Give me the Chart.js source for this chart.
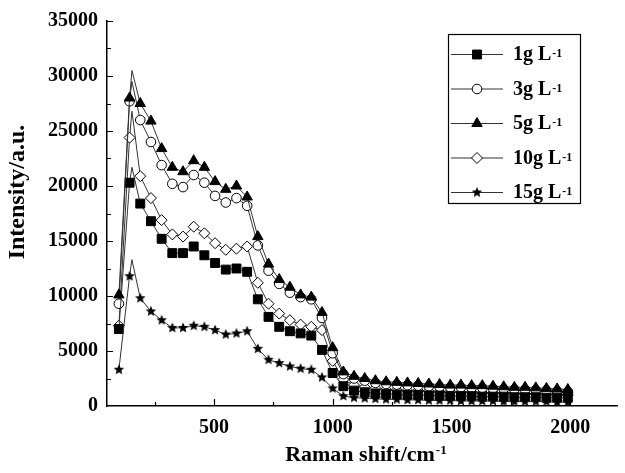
<!DOCTYPE html>
<html>
<head>
<meta charset="utf-8">
<script src="https://cdn.jsdelivr.net/npm/chart.js@4.4.1/dist/chart.umd.min.js"></script>
<style>
  html, body { margin: 0; padding: 0; background: #fff; }
  #wrap { width: 625px; height: 473px; }
</style>
</head>
<body>
<div id="wrap"><canvas id="ramanChart" width="625" height="473"></canvas></div>
<script>
// Raman shift (cm-1); 155 is the unmarked peak point
const shifts = [100, 145, 155, 190, 235, 280, 325, 370, 415, 460, 505, 550, 595, 640, 685, 730, 775, 820, 865, 910,
  955, 1000, 1045, 1090, 1135, 1180, 1225, 1270, 1315, 1360, 1405, 1450, 1495, 1540, 1585, 1630, 1675, 1720, 1765,
  1810, 1855, 1900, 1945, 1990];

const conc1g = [7000, 20300, 21700, 18400, 16800, 15200, 13900, 13900, 14500, 13700, 13000, 12400, 12500, 12200, 9700,
  8100, 7200, 6800, 6600, 6400, 5100, 3000, 1800, 1400, 1250, 1150, 1100, 1050, 1000, 1000, 950, 950, 900, 900, 900,
  850, 850, 850, 800, 800, 800, 750, 750, 750];
const conc3g = [9300, 27700, 29500, 26000, 24000, 21900, 20200, 19900, 21000, 20300, 19100, 18500, 18900, 18200, 14600,
  12300, 11100, 10300, 9900, 9700, 8000, 4800, 2900, 2500, 2300, 2100, 2000, 1950, 1900, 1850, 1800, 1750, 1700, 1700,
  1650, 1650, 1600, 1550, 1500, 1500, 1450, 1400, 1350, 1300];
const conc5g = [10100, 28000, 30500, 27500, 25900, 23400, 21700, 21300, 22300, 21700, 20400, 19700, 20000, 19000, 15400,
  12900, 11500, 10800, 10100, 9900, 8500, 5300, 3100, 2700, 2500, 2300, 2200, 2150, 2100, 2050, 2000, 1950, 1900, 1900,
  1850, 1850, 1800, 1750, 1700, 1700, 1650, 1600, 1550, 1500];
const conc10g = [7300, 24400, 26800, 20900, 18900, 16900, 15600, 15400, 16300, 15700, 14800, 14200, 14300, 14500, 11200,
  9300, 8400, 7800, 7400, 7200, 6900, 4100, 2400, 1900, 1700, 1600, 1500, 1450, 1400, 1400, 1350, 1300, 1300, 1250,
  1250, 1200, 1200, 1150, 1150, 1100, 1100, 1050, 1050, 1000];
const conc15g = [3300, 11800, 13300, 9800, 8600, 7800, 7100, 7100, 7300, 7200, 6900, 6500, 6600, 6800, 5200, 4200, 3900,
  3600, 3400, 3300, 2600, 1600, 900, 750, 700, 650, 600, 600, 550, 550, 500, 500, 500, 450, 450, 450, 450, 400, 400,
  400, 400, 400, 350, 350];

const seriesNames = ['1g L', '3g L', '5g L', '10g L', '15g L'];
const xTitle = 'Raman shift/cm';
const yTitle = 'Intensity/a.u.';

// tick values; only multiples of 500 / 5000 get a label
const xTicks = [250, 500, 750, 1000, 1250, 1500, 1750, 2000];
const yTicks = [0, 2500, 5000, 7500, 10000, 12500, 15000, 17500, 20000, 22500, 25000, 27500, 30000, 32500, 35000];

const FONT = 'Liberation Serif';

// filled five-point star, Chart.js has only the asterisk style
function makeStar(size) {
  const c = document.createElement('canvas');
  c.width = c.height = size;
  const g = c.getContext('2d');
  const R = size / 2 - 0.5, r = R * 0.45;
  g.beginPath();
  for (let i = 0; i < 10; i++) {
    const a = -Math.PI / 2 + i * Math.PI / 5;
    const rr = i % 2 ? r : R;
    g.lineTo(size / 2 + rr * Math.cos(a), size / 2 + rr * Math.sin(a));
  }
  g.closePath();
  g.fillStyle = '#000';
  g.fill();
  return c;
}
const star = makeStar(12);

// no marker on the peak point
const radii = r => shifts.map((s, i) => (i === 2 ? 0 : r));

function series(label, values, style, radius, filled, order) {
  return {
    label,
    data: shifts.map((x, i) => ({ x, y: values[i] })),
    borderColor: '#333',
    borderWidth: 1,
    pointStyle: style,
    pointRadius: radii(radius),
    pointBorderColor: '#000',
    pointBackgroundColor: filled ? '#000' : '#fff',
    pointBorderWidth: 1,
    tension: 0,
    order
  };
}

const datasets = [
  series(seriesNames[0], conc1g, 'rect', 6.3, true, 3),
  series(seriesNames[1], conc3g, 'circle', 4.8, false, 4),
  series(seriesNames[2], conc5g, 'triangle', 6, true, 2),
  series(seriesNames[3], conc10g, 'rectRot', 5.5, false, 5),
  series(seriesNames[4], conc15g, star, 5, true, 1)
];

function textWithSup(ctx, base, sup, x, y, size, supSize, raise) {
  ctx.font = 'bold ' + size + 'px "' + FONT + '"';
  ctx.fillText(base, x, y);
  const w = ctx.measureText(base).width;
  ctx.font = 'bold ' + supSize + 'px "' + FONT + '"';
  ctx.fillText(sup, x + w + 1, y - raise);
}

const decor = {
  id: 'decor',
  afterDraw(chart) {
    const ctx = chart.ctx;
    const xs = chart.scales.x, ys = chart.scales.y;
    const a = chart.chartArea;
    ctx.save();
    ctx.strokeStyle = '#000';
    ctx.fillStyle = '#000';
    ctx.lineWidth = 1.2;

    // inward ticks
    ctx.beginPath();
    xs.ticks.forEach(t => {
      const px = Math.round(xs.getPixelForValue(t.value)) + 0.5;
      const len = t.value % 500 === 0 ? 7 : 4;
      ctx.moveTo(px, a.bottom);
      ctx.lineTo(px, a.bottom - len);
    });
    ys.ticks.forEach(t => {
      if (t.value === 0) return;
      const py = Math.round(ys.getPixelForValue(t.value)) + 0.5;
      const len = t.value % 5000 === 0 ? 6 : 4;
      ctx.moveTo(a.left, py);
      ctx.lineTo(a.left + len, py);
    });
    ctx.stroke();

    // axis titles
    ctx.textBaseline = 'alphabetic';
    ctx.textAlign = 'left';
    ctx.font = 'bold 22px "' + FONT + '"';
    const bw = ctx.measureText(xTitle).width;
    textWithSup(ctx, xTitle, '-1', 365 - (bw + 10) / 2, 461, 22, 13, 7);

    ctx.save();
    ctx.translate(18, 192);
    ctx.rotate(-Math.PI / 2);
    ctx.font = 'bold 24px "' + FONT + '"';
    ctx.textAlign = 'center';
    ctx.textBaseline = 'middle';
    ctx.fillText(yTitle, 0, 0);
    ctx.restore();

    // legend
    const bx = 448, by = 34, bwid = 132, bh = 169;
    ctx.lineWidth = 1.2;
    ctx.strokeRect(bx + 0.5, by + 0.5, bwid, bh);
    chart.data.datasets.forEach((ds, i) => {
      const y = 54 + i * 34.5;
      ctx.strokeStyle = '#333';
      ctx.lineWidth = 1;
      ctx.beginPath();
      ctx.moveTo(451, y + 0.5);
      ctx.lineTo(503, y + 0.5);
      ctx.stroke();
      ctx.strokeStyle = '#000';
      ctx.fillStyle = ds.pointBackgroundColor;
      Chart.helpers.drawPoint(ctx, {
        pointStyle: ds.pointStyle, radius: ds.pointRadius[0], borderWidth: 1, rotation: 0
      }, 477, y + 0.5);
      ctx.fillStyle = '#000';
      ctx.textAlign = 'left';
      ctx.textBaseline = 'alphabetic';
      textWithSup(ctx, ds.label, '-1', 513, y + 6, 20, 12, 3);
    });
    ctx.restore();
  }
};

const tickFont = { family: FONT, size: 20, weight: 'bold' };

new Chart(document.getElementById('ramanChart'), {
  type: 'line',
  data: { datasets },
  options: {
    responsive: false,
    animation: false,
    events: [],
    layout: { padding: { left: 0, top: 18, right: 7, bottom: 0 } },
    plugins: { legend: { display: false }, tooltip: { enabled: false } },
    scales: {
      x: {
        type: 'linear',
        min: 50,
        max: 2200,
        grid: { display: false, drawTicks: false },
        border: { display: true, color: '#000', width: 1.5 },
        afterBuildTicks: s => { s.ticks = xTicks.map(value => ({ value })); },
        ticks: {
          autoSkip: false,
          maxRotation: 0,
          padding: 10,
          color: '#000',
          font: tickFont,
          callback: v => (v % 500 === 0 ? v : '')
        },
        afterFit: s => { s.height = 67; }
      },
      y: {
        min: 0,
        max: 35000,
        grid: { display: false, drawTicks: false },
        border: { display: true, color: '#000', width: 1.5 },
        afterBuildTicks: s => { s.ticks = yTicks.map(value => ({ value })); },
        ticks: {
          autoSkip: false,
          padding: 9,
          color: '#000',
          font: tickFont,
          callback: v => (v % 5000 === 0 ? v : '')
        },
        afterFit: s => { s.width = 107; }
      }
    }
  },
  plugins: [decor]
});
</script>
</body>
</html>
